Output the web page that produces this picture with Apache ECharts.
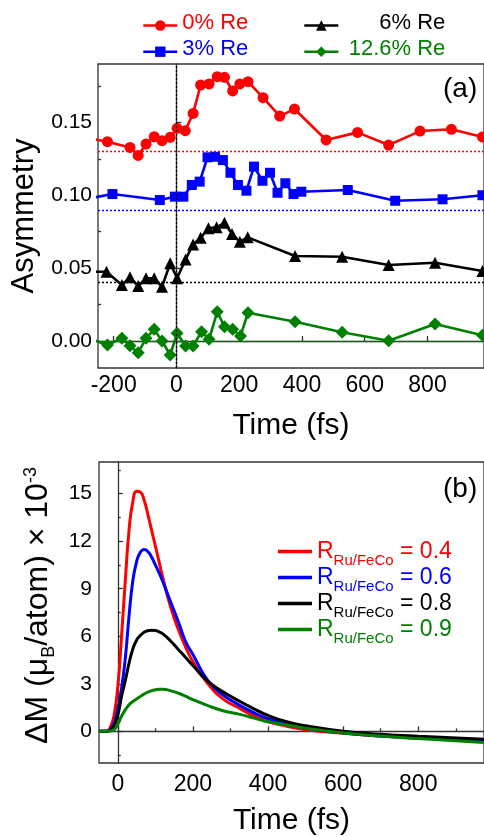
<!DOCTYPE html>
<html>
<head>
<meta charset="utf-8">
<script src="https://cdn.jsdelivr.net/npm/echarts@6/dist/echarts.min.js"></script>
<style>
  html, body { margin: 0; padding: 0; background: #fff; }
  #c { width: 484px; height: 837px; }
</style>
</head>
<body>
<div id="c"></div>
<script>
// ---- Panel (a): pump-probe asymmetry vs delay, four Re concentrations ----
const timeRe0 = [-275, -220, -148, -122, -97, -71, -46, -20, 2, 28, 53, 77, 104, 130, 153, 179, 202, 228, 276, 329, 376, 477, 577, 676, 776, 876, 975];
const asymRe0 = [0.1390, 0.1367, 0.1328, 0.1273, 0.1351, 0.1401, 0.1374, 0.1397, 0.1459, 0.1443, 0.1561, 0.1756, 0.1763, 0.1813, 0.1809, 0.1715, 0.1763, 0.1779, 0.1669, 0.1543, 0.1591, 0.1379, 0.1431, 0.1344, 0.1440, 0.1452, 0.1400];

const timeRe3 = [-275, -204, -53, -5, 22, 49, 74, 99, 123, 148, 172, 196, 223, 247, 274, 298, 322, 347, 373, 398, 546, 697, 848, 975];
const asymRe3 = [0.0980, 0.1008, 0.0967, 0.0990, 0.0990, 0.1070, 0.1093, 0.1260, 0.1264, 0.1241, 0.1154, 0.1070, 0.1031, 0.1196, 0.1099, 0.1154, 0.1017, 0.1082, 0.1008, 0.1024, 0.1036, 0.0962, 0.0972, 0.1000];

const timeRe6 = [-275, -223, -174, -148, -122, -97, -71, -46, -20, 2, 29, 53, 77, 102, 128, 153, 177, 202, 227, 378, 528, 676, 824, 975];
const asymRe6 = [0.0475, 0.0475, 0.0384, 0.0437, 0.0377, 0.0430, 0.0430, 0.0372, 0.0533, 0.0430, 0.0560, 0.0662, 0.0708, 0.0773, 0.0780, 0.0811, 0.0734, 0.0681, 0.0711, 0.0583, 0.0578, 0.0521, 0.0537, 0.0480];

const timeRe12 = [-275, -220, -174, -148, -122, -97, -71, -46, -20, 2, 29, 53, 80, 104, 130, 153, 179, 204, 228, 378, 528, 676, 824, 975];
const asymRe12 = [0.0015, -0.0027, 0.0019, -0.0032, -0.0080, 0.0019, 0.0080, 0.0000, -0.0096, 0.0053, -0.0034, -0.0034, 0.0064, 0.0012, 0.0201, 0.0098, 0.0080, 0.0034, 0.0194, 0.0132, 0.0060, 0.0002, 0.0117, 0.0040];

// unpumped reference levels (dotted lines)
const baseLevels = [0.13, 0.09, 0.04, 0.0];

const ticksAx = [-200, 0, 200, 400, 600, 800];
const ticksAy = [0, 0.05, 0.10, 0.15];
const minorAy = [0.025, 0.075, 0.125, 0.175];

// ---- Panel (b): calculated magnetization change for several Ru/FeCo ratios ----
const timeCalc = [-50, -30, -20, -10, 0, 10, 20, 30, 40, 50, 60, 70, 80, 90, 100, 110, 120, 140, 160, 180, 200, 240, 280, 320, 360, 400, 450, 500, 600, 700, 800, 975];
const dM04 = [0, 0, 0.25, 1.0, 2.8, 6.0, 9.5, 12.7, 14.5, 15.15, 15.1, 14.6, 13.7, 12.7, 11.7, 10.7, 9.7, 7.9, 6.5, 5.35, 4.4, 3.0, 2.05, 1.5, 1.0, 0.62, 0.32, 0.1, -0.12, -0.3, -0.42, -0.6];
const dM06 = [0, 0, 0.1, 0.5, 1.4, 2.7, 4.6, 7.3, 9.5, 10.7, 11.3, 11.48, 11.35, 11.0, 10.5, 10.0, 9.45, 8.2, 7.0, 5.7, 4.85, 3.2, 2.3, 1.7, 1.2, 0.8, 0.45, 0.2, -0.1, -0.3, -0.42, -0.6];
const dM08 = [0, 0, 0.05, 0.35, 1.0, 2.2, 3.2, 4.3, 5.2, 5.75, 6.05, 6.25, 6.35, 6.38, 6.36, 6.28, 6.15, 5.72, 5.2, 4.68, 4.15, 3.15, 2.5, 1.95, 1.45, 1.0, 0.6, 0.35, 0.0, -0.18, -0.31, -0.5];
const dM09 = [0, 0, 0.02, 0.1, 0.45, 0.95, 1.35, 1.68, 1.88, 2.04, 2.2, 2.35, 2.47, 2.56, 2.62, 2.66, 2.66, 2.57, 2.42, 2.22, 2.0, 1.62, 1.3, 1.1, 0.85, 0.6, 0.4, 0.2, -0.1, -0.3, -0.46, -0.7];

const ticksBx = [0, 200, 400, 600, 800];
const minorBx = [100, 300, 500, 700, 900];
const ticksBy = [0, 3, 6, 9, 12, 15];
const minorBy = [-1.5, 1.5, 4.5, 7.5, 10.5, 13.5, 16.5];

const RED = '#ff0000', BLUE = '#0000ff', BLACK = '#000000', GREEN = '#008000';
const FONT = '"Liberation Sans", Arial, Helvetica, sans-serif';
const AXIS = '#333333';

const zip = (xs, ys) => xs.map((x, i) => [x, ys[i]]);

function asymSeries(name, t, a, color, symbol, size, base, extraLines) {
  return {
    name, type: 'line', xAxisIndex: 0, yAxisIndex: 0,
    data: zip(t, a),
    symbol, symbolSize: size, showAllSymbol: true, clip: true,
    lineStyle: { color, width: 2.6 },
    itemStyle: { color },
    animation: false, z: 3,
    markLine: {
      silent: true, symbol: 'none', animation: false, label: { show: false },
      lineStyle: { color, type: [2, 2], width: 1.3 },
      data: [{ yAxis: base }].concat(extraLines || [])
    }
  };
}

function calcSeries(name, y, color) {
  return {
    name, type: 'line', xAxisIndex: 1, yAxisIndex: 2,
    data: zip(timeCalc, y),
    symbol: 'none', smooth: 0.5, clip: true,
    lineStyle: { color, width: 3, join: 'round' },
    itemStyle: { color },
    animation: false
  };
}

const tickStyle = { color: AXIS, width: 1.3 };

const option = {
  backgroundColor: '#ffffff',
  animation: false,
  textStyle: { fontFamily: FONT },
  grid: [
    { left: 98, top: 64, width: 402, height: 304, show: true, borderColor: AXIS, borderWidth: 1.3, containLabel: false },
    { left: 99, top: 462, width: 401, height: 302, show: true, borderColor: AXIS, borderWidth: 1.3, containLabel: false }
  ],
  xAxis: [
    {
      gridIndex: 0, type: 'value', min: -250, max: 980, position: 'bottom',
      axisLine: { lineStyle: tickStyle },
      axisTick: { inside: true, length: 5, customValues: ticksAx, lineStyle: tickStyle },
      axisLabel: { customValues: ticksAx, fontSize: 23, color: '#000', margin: 6, fontFamily: FONT },
      splitLine: { show: false },
      name: 'Time (fs)', nameLocation: 'middle', nameGap: 43,
      nameTextStyle: { fontSize: 30, color: '#000', fontFamily: FONT, lineHeight: 30 }
    },
    {
      gridIndex: 1, type: 'value', min: -50, max: 975, position: 'bottom',
      axisLine: { lineStyle: tickStyle },
      axisTick: { inside: true, length: 5, customValues: ticksBx, lineStyle: tickStyle },
      axisLabel: { customValues: ticksBx, fontSize: 23, color: '#000', margin: 10, fontFamily: FONT },
      splitLine: { show: false },
      name: 'Time (fs)', nameLocation: 'middle', nameGap: 43,
      nameTextStyle: { fontSize: 30, color: '#000', fontFamily: FONT, lineHeight: 30 }
    },
    {
      gridIndex: 1, type: 'value', min: -50, max: 975, position: 'bottom',
      axisLine: { show: false },
      axisTick: { inside: true, length: 3, customValues: minorBx, lineStyle: tickStyle },
      axisLabel: { show: false },
      splitLine: { show: false }
    }
  ],
  yAxis: [
    {
      gridIndex: 0, type: 'value', min: -0.0185, max: 0.19, position: 'left',
      axisLine: { show: true, lineStyle: tickStyle },
      axisTick: { inside: true, length: 5, customValues: ticksAy, lineStyle: tickStyle },
      axisLabel: { customValues: ticksAy, fontSize: 21, color: '#000', margin: 6, fontFamily: FONT,
                   formatter: v => v.toFixed(2) },
      splitLine: { show: false },
      name: 'Asymmetry', nameLocation: 'middle', nameGap: 56,
      nameTextStyle: { fontSize: 31, color: '#000', fontFamily: FONT, lineHeight: 30 }
    },
    {
      gridIndex: 0, type: 'value', min: -0.0185, max: 0.19, position: 'left',
      axisLine: { show: false },
      axisTick: { inside: true, length: 3, customValues: minorAy, lineStyle: tickStyle },
      axisLabel: { show: false },
      splitLine: { show: false }
    },
    {
      gridIndex: 1, type: 'value', min: -2, max: 17, position: 'left',
      axisLine: { show: true, lineStyle: tickStyle },
      axisTick: { inside: true, length: 5, customValues: ticksBy, lineStyle: tickStyle },
      axisLabel: { customValues: ticksBy, fontSize: 21, color: '#000', margin: 7, fontFamily: FONT },
      splitLine: { show: false },
      name: '{m|\u0394M (\u03bc}{s|B}{m|/atom) \u00d7 10}{p|-3}',
      nameLocation: 'middle', nameGap: 47,
      nameTextStyle: {
        color: '#000', fontFamily: FONT, fontSize: 32, padding: [0, 0, 0, 14],
        rich: {
          m: { fontSize: 32, lineHeight: 30, padding: [6, 0, 0, 0], verticalAlign: 'top', fontFamily: FONT },
          s: { fontSize: 18, lineHeight: 16, padding: [24, 0, 0, 0], verticalAlign: 'top', fontFamily: FONT },
          p: { fontSize: 18, lineHeight: 16, padding: [6, 0, 0, 0], verticalAlign: 'top', fontFamily: FONT }
        }
      }
    },
    {
      gridIndex: 1, type: 'value', min: -2, max: 17, position: 'left',
      axisLine: { show: false },
      axisTick: { inside: true, length: 3, customValues: minorBy, lineStyle: tickStyle },
      axisLabel: { show: false },
      splitLine: { show: false }
    }
  ],
  legend: [
    {
      left: 137, top: 7, orient: 'vertical', itemWidth: 34, itemHeight: 13, itemGap: -0.8,
      selectedMode: false, lineStyle: { width: 2.6 },
      data: [
        { name: '0% Re', textStyle: { color: RED } },
        { name: '3% Re', textStyle: { color: BLUE } }
      ],
      formatter: n => '{t|' + n + '}',
      textStyle: { fontFamily: FONT, fontSize: 22,
        rich: { t: { fontSize: 22, lineHeight: 20, padding: [0, 0, 5, 0], fontFamily: FONT } } }
    },
    {
      left: 298, top: 7, orient: 'vertical', itemWidth: 34, itemHeight: 13, itemGap: -0.8,
      selectedMode: false, lineStyle: { width: 2.6 },
      data: [
        { name: '6% Re', textStyle: { color: BLACK } },
        { name: '12.6% Re', textStyle: { color: GREEN } }
      ],
      formatter: n => '{t|' + n + '}',
      textStyle: { fontFamily: FONT, fontSize: 22,
        rich: { t: { fontSize: 22, lineHeight: 20, width: 102, align: 'right', padding: [0, 0, 5, 0], fontFamily: FONT } } }
    },
    {
      left: 273, top: 535.5, orient: 'vertical', itemWidth: 34, itemHeight: 3.5, itemGap: -1.5,
      icon: 'rect', selectedMode: false,
      data: [
        { name: '0.4', textStyle: { color: RED } },
        { name: '0.6', textStyle: { color: BLUE } },
        { name: '0.8', textStyle: { color: BLACK } },
        { name: '0.9', textStyle: { color: GREEN } }
      ],
      formatter: n => '{r|R}{s|Ru/FeCo}{r| = ' + n + '}',
      textStyle: { fontFamily: FONT, fontSize: 23,
        rich: {
          r: { fontSize: 23, lineHeight: 22, verticalAlign: 'top', fontFamily: FONT },
          s: { fontSize: 15, lineHeight: 14, padding: [12.5, 0, 0, 0], verticalAlign: 'top', fontFamily: FONT }
        } }
    }
  ],
  graphic: [
    { type: 'text', left: 443, top: 75, style: { text: '(a)', fontSize: 28, fontFamily: FONT, fill: '#000' } },
    { type: 'text', left: 443, top: 475, style: { text: '(b)', fontSize: 28, fontFamily: FONT, fill: '#000' } }
  ],
  series: [
    asymSeries('0% Re', timeRe0, asymRe0, RED, 'circle', 11, baseLevels[0],
      [{ xAxis: 0, lineStyle: { color: BLACK, type: [2, 2], width: 1.3 } }]),
    asymSeries('3% Re', timeRe3, asymRe3, BLUE, 'rect', 10, baseLevels[1]),
    asymSeries('6% Re', timeRe6, asymRe6, BLACK, 'triangle', 12, baseLevels[2]),
    asymSeries('12.6% Re', timeRe12, asymRe12, GREEN, 'diamond', 13, baseLevels[3]),
    calcSeries('0.4', dM04, RED),
    calcSeries('0.6', dM06, BLUE),
    calcSeries('0.8', dM08, BLACK),
    calcSeries('0.9', dM09, GREEN)
  ]
};

const chart = echarts.init(document.getElementById('c'), null, { renderer: 'canvas' });
chart.setOption(option);
</script>
</body>
</html>
